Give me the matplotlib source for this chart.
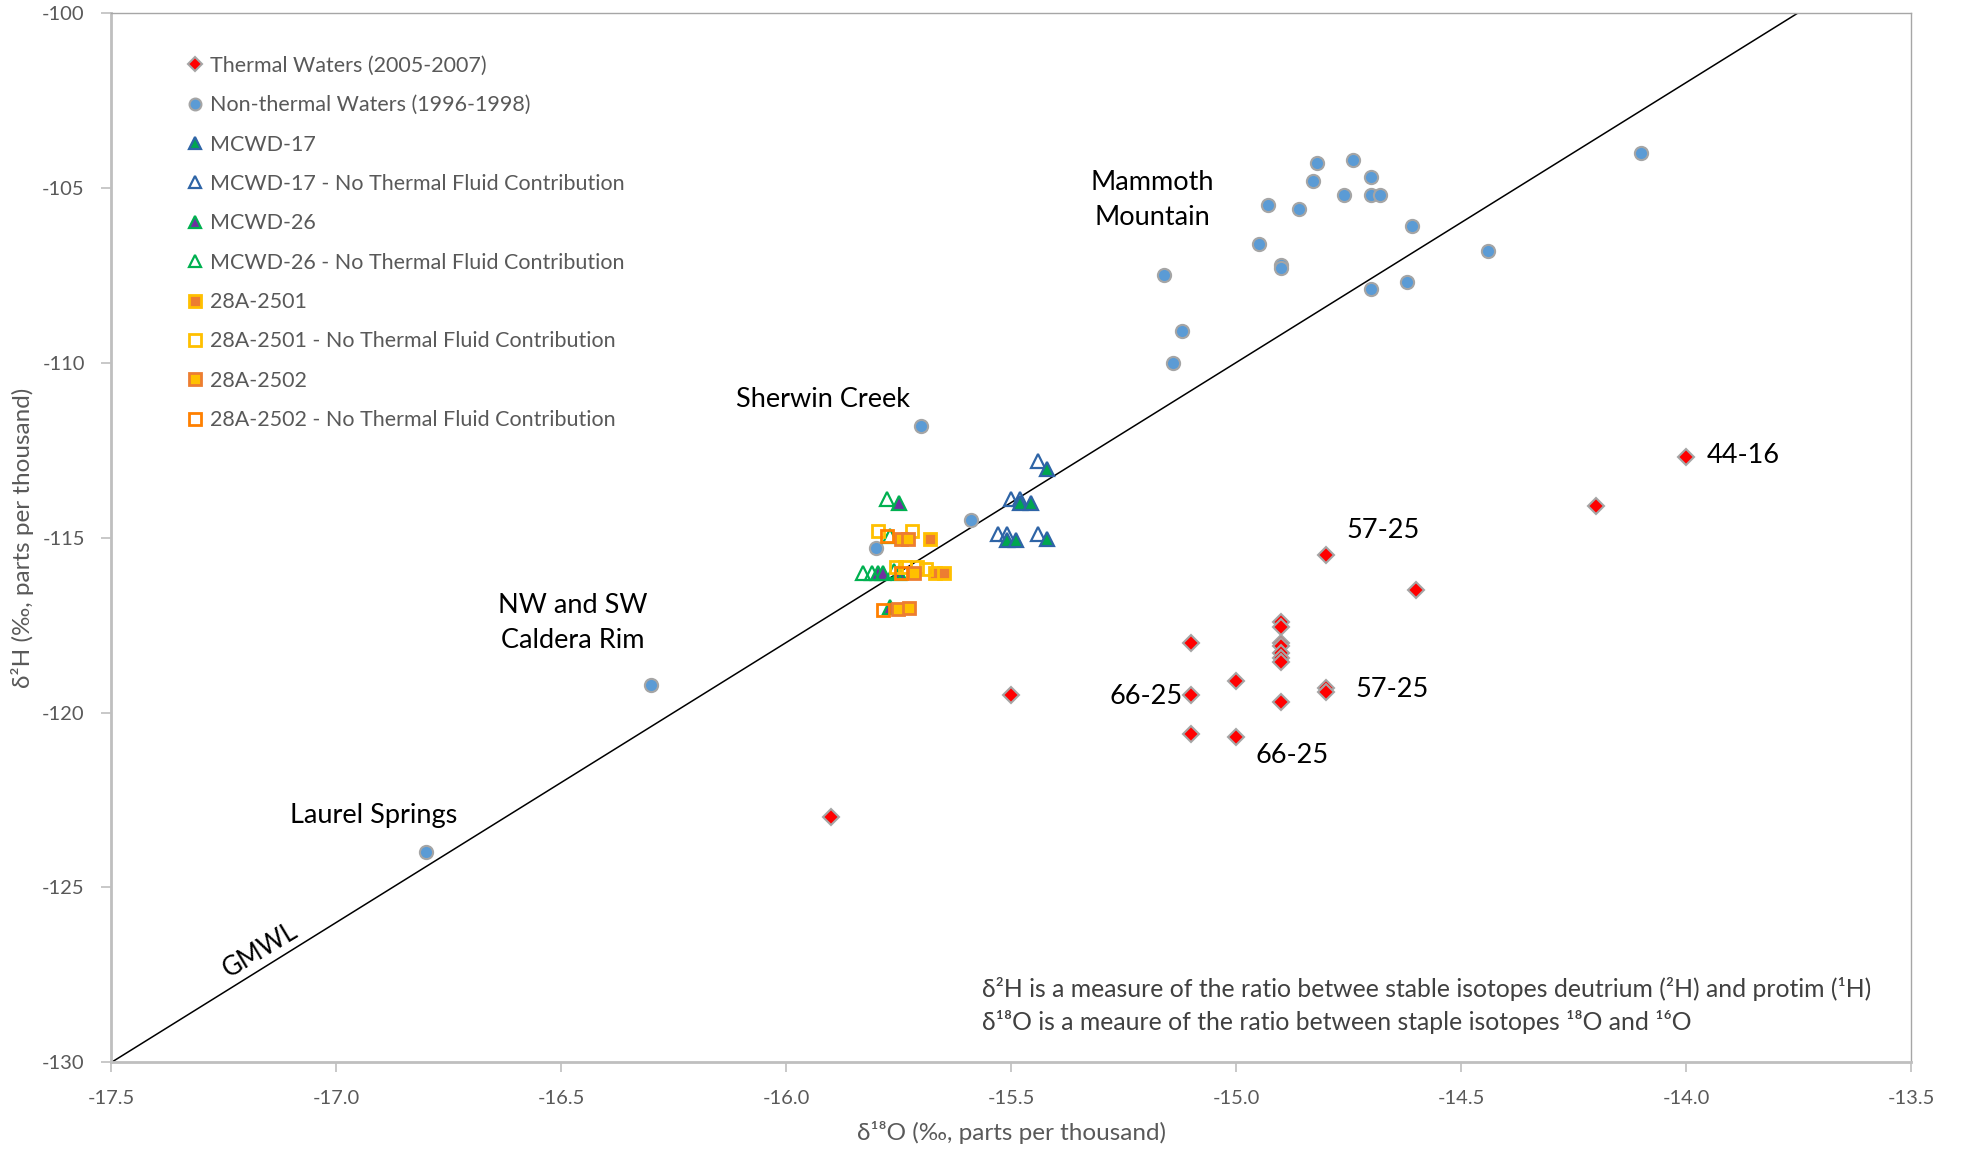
import matplotlib
matplotlib.use("Agg")
import matplotlib.pyplot as plt

plt.rcParams['font.family'] = ['Lato', 'DejaVu Sans']

# ---- data (δ18O, δ2H in per mil) ----
thermal_x = [-14.0, -14.2, -14.8, -14.6, -14.9, -14.9, -14.9, -14.9, -14.9, -14.9, -14.9,
             -14.9, -15.1, -15.1, -15.1, -15.0, -15.0, -14.8, -14.8, -15.5, -15.9]
thermal_y = [-112.7, -114.1, -115.5, -116.5, -117.4, -117.55, -118.0, -118.1, -118.3, -118.45, -118.55,
             -119.7, -118.0, -119.5, -120.6, -119.1, -120.7, -119.3, -119.4, -119.5, -123.0]

nonthermal_x = [-16.8, -16.3, -15.7, -15.59, -15.8, -15.16, -15.12, -15.14, -14.95, -14.93, -14.9,
                -14.9, -14.86, -14.83, -14.82, -14.76, -14.74, -14.70, -14.70, -14.68, -14.70,
                -14.62, -14.61, -14.44, -14.1]
nonthermal_y = [-124.0, -119.2, -111.8, -114.5, -115.3, -107.5, -109.1, -110.0, -106.6, -105.5, -107.2,
                -107.3, -105.6, -104.8, -104.3, -105.2, -104.2, -104.7, -105.2, -105.2, -107.9,
                -107.7, -106.1, -106.8, -104.0]

mcwd17_x = [-15.42, -15.48, -15.455, -15.51, -15.49, -15.42]
mcwd17_y = [-113.05, -114.0, -114.0, -115.07, -115.07, -115.04]
mcwd17_nt_x = [-15.44, -15.50, -15.48, -15.53, -15.51, -15.44]
mcwd17_nt_y = [-112.8, -113.9, -113.9, -114.9, -114.9, -114.9]

mcwd26_x = [-15.75, -15.795, -15.785, -15.75, -15.77]
mcwd26_y = [-114.0, -116.0, -116.0, -116.0, -116.98]
mcwd26_nt_x = [-15.775, -15.83, -15.81, -15.77, -15.76]
mcwd26_nt_y = [-113.9, -116.0, -116.0, -114.95, -115.95]

a2501_x = [-15.68, -15.67, -15.65]
a2501_y = [-115.04, -116.0, -116.0]
a2501_nt_x = [-15.795, -15.72, -15.755, -15.735, -15.71, -15.69]
a2501_nt_y = [-114.8, -114.8, -115.85, -115.85, -115.85, -115.9]

a2502_x = [-15.745, -15.73, -15.715, -15.752, -15.727]
a2502_y = [-115.04, -115.04, -116.0, -117.05, -117.02]
a2502_nt_x = [-15.775, -15.745, -15.784]
a2502_nt_y = [-114.95, -116.02, -117.07]

x_ticks = [-17.5, -17.0, -16.5, -16.0, -15.5, -15.0, -14.5, -14.0, -13.5]
y_ticks = [-130, -125, -120, -115, -110, -105, -100]

# ---- figure ----
fig = plt.figure(figsize=(19.61, 11.5), dpi=100)
ax = fig.add_axes([0.0567, 0.0761, 0.9179, 0.913])
ax.set_xlim(-17.5, -13.5)
ax.set_ylim(-130, -100)

# Global meteoric water line: δ2H = 8 δ18O + 10
ax.axline((-17.5, 8 * -17.5 + 10), slope=8, color='black', lw=1.1, zorder=2)

grey_edge = '#A5A5A5'
ax.plot(thermal_x, thermal_y, 'D', ms=8, mfc='#FF0000', mec=grey_edge, mew=1.5, ls='none',
        label='Thermal Waters (2005-2007)', zorder=3)
ax.plot(nonthermal_x, nonthermal_y, 'o', ms=9.5, mfc='#5B9BD5', mec=grey_edge, mew=1.5, ls='none',
        label='Non-thermal Waters (1996-1998)', zorder=3)
ax.plot(mcwd17_nt_x, mcwd17_nt_y, '^', ms=10, mfc='none', mec='#2E64A6', mew=1.6, ls='none',
        label='MCWD-17 - No Thermal Fluid Contribution', zorder=3)
ax.plot(mcwd17_x, mcwd17_y, '^', ms=10, mfc='#00A650', mec='#2E64A6', mew=1.6, ls='none',
        label='MCWD-17', zorder=4)
ax.plot(mcwd26_x, mcwd26_y, '^', ms=10, mfc='#7030A0', mec='#00B050', mew=1.6, ls='none',
        label='MCWD-26', zorder=4)
ax.plot(mcwd26_nt_x, mcwd26_nt_y, '^', ms=10, mfc='none', mec='#00B050', mew=1.6, ls='none',
        label='MCWD-26 - No Thermal Fluid Contribution', zorder=4)
ax.plot(a2501_x, a2501_y, 's', ms=9, mfc='#ED7D31', mec='#FFC000', mew=2, ls='none',
        label='28A-2501', zorder=5)
ax.plot(a2501_nt_x, a2501_nt_y, 's', ms=9, mfc='none', mec='#FFC000', mew=2, ls='none',
        label='28A-2501 - No Thermal Fluid Contribution', zorder=5)
ax.plot(a2502_x, a2502_y, 's', ms=9, mfc='#FFC000', mec='#ED7D31', mew=2, ls='none',
        label='28A-2502', zorder=5)
ax.plot(a2502_nt_x, a2502_nt_y, 's', ms=9, mfc='none', mec='#FF8000', mew=2, ls='none',
        label='28A-2502 - No Thermal Fluid Contribution', zorder=5)

# legend in the original series order
handles, labels = ax.get_legend_handles_labels()
order = ['Thermal Waters (2005-2007)', 'Non-thermal Waters (1996-1998)', 'MCWD-17',
         'MCWD-17 - No Thermal Fluid Contribution', 'MCWD-26',
         'MCWD-26 - No Thermal Fluid Contribution', '28A-2501',
         '28A-2501 - No Thermal Fluid Contribution', '28A-2502',
         '28A-2502 - No Thermal Fluid Contribution']
hmap = dict(zip(labels, handles))
leg = ax.legend([hmap[l] for l in order], order, loc='upper left',
                bbox_to_anchor=(0.038, 0.967), frameon=False, fontsize=15.5,
                labelcolor='#595959', handlelength=0.6, handletextpad=0.4,
                labelspacing=0.9, markerscale=0.9, borderaxespad=0)

# ---- axes styling ----
ax.set_xticks(x_ticks)
ax.set_xticklabels([f'{v:.1f}' for v in x_ticks])
ax.set_yticks(y_ticks)
ax.set_yticklabels([str(v) for v in y_ticks])
ax.tick_params(axis='both', direction='out', length=7, width=1.2, color='#BFBFBF',
               labelsize=14.5, labelcolor='#595959')
ax.tick_params(axis='x', pad=13)
ax.tick_params(axis='y', pad=12)
for s in ['left', 'bottom']:
    ax.spines[s].set_color('#BFBFBF')
    ax.spines[s].set_linewidth(2)
for s in ['top', 'right']:
    ax.spines[s].set_color('#A6A6A6')
    ax.spines[s].set_linewidth(1)

ax.set_xlabel('δ¹⁸O (‰, parts per thousand)', fontsize=17.5, color='#595959', labelpad=10)
ax.set_ylabel('δ²H (‰, parts per thousand)', fontsize=17.5, color='#595959', labelpad=6)

# ---- annotations ----
lab = dict(fontsize=19.5, color='black')
ax.text(-15.186, -105.36, 'Mammoth\nMountain', ha='center', va='center', linespacing=1.5, **lab)
ax.text(-15.918, -111.07, 'Sherwin Creek', ha='center', va='center', **lab)
ax.text(-16.475, -117.44, 'NW and SW\nCaldera Rim', ha='center', va='center', linespacing=1.5, **lab)
ax.text(-16.916, -122.93, 'Laurel Springs', ha='center', va='center', **lab)
ax.text(-13.954, -112.67, '44-16', ha='left', va='center', **lab)
ax.text(-14.756, -114.79, '57-25', ha='left', va='center', **lab)
ax.text(-14.736, -119.33, '57-25', ha='left', va='center', **lab)
ax.text(-15.281, -119.53, '66-25', ha='left', va='center', **lab)
ax.text(-14.958, -121.24, '66-25', ha='left', va='center', **lab)
ax.text(-17.169, -126.79, 'GMWL', ha='center', va='center', rotation=31, fontsize=18.5)

note = dict(fontsize=17.8, color='#404040', ha='left', va='center')
ax.text(-15.565, -127.9,
        'δ²H is a measure of the ratio betwee stable isotopes deutrium (²H) and protim (¹H)', **note)
ax.text(-15.565, -128.84,
        'δ¹⁸O is a meaure of the ratio between staple isotopes ¹⁸O and ¹⁶O', **note)

fig.savefig('out.png', dpi=100)
